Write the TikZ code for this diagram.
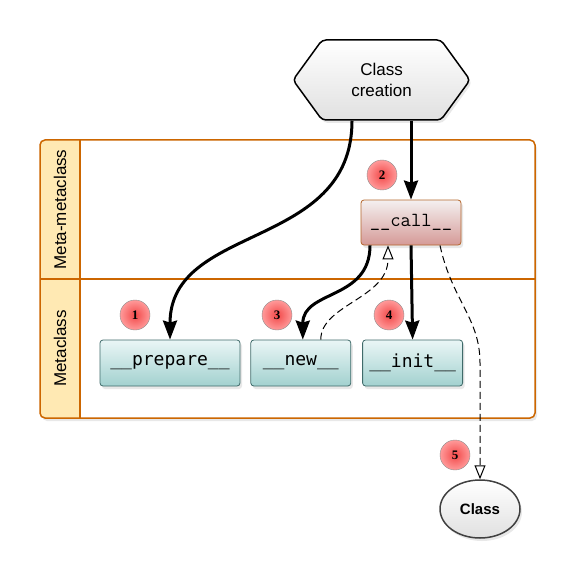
\documentclass[tikz,border=0pt]{standalone}
\usepackage{fontspec}
\setmainfont{Liberation Sans}
\newfontfamily\codefont{DejaVu Sans Mono}
\newfontfamily\numfont{Liberation Serif}
\usetikzlibrary{arrows.meta, shadows, shapes.symbols, shapes.geometric, positioning}

\definecolor{lane}{HTML}{CC6600}
\definecolor{lanefill}{HTML}{FFE9B3}
\definecolor{tealtop}{HTML}{EAF6F6}
\definecolor{tealbot}{HTML}{A2D1CF}
\definecolor{tealline}{HTML}{3F6B6A}
\definecolor{calltop}{HTML}{F4F0F0}
\definecolor{callbot}{HTML}{D59A97}
\definecolor{callline}{HTML}{B4662C}
\definecolor{badgein}{HTML}{F24848}
\definecolor{badgeout}{HTML}{FF9A9A}

\tikzstyle{soft}=[drop shadow={opacity=0.18, shadow xshift=2pt, shadow yshift=-3pt}]
\tikzstyle{method}=[rectangle, rounded corners=3pt, draw=tealline, thick, top color=tealtop, bottom color=tealbot, minimum width=100pt, minimum height=46pt, font=\codefont\fontsize{18}{20}\selectfont, soft]
\tikzstyle{callbox}=[rectangle, rounded corners=3pt, draw=callline, thick, top color=calltop, bottom color=callbot, minimum width=100pt, minimum height=45pt, font=\ttfamily\fontsize{20}{22}\selectfont, soft]
\tikzstyle{hexa}=[signal, signal to=west and east, signal pointer angle=108, draw=black, line width=1.5pt, rounded corners=4pt, top color=white, bottom color=black!12, minimum width=177pt, minimum height=80pt, align=center, font=\fontsize{17}{21}\selectfont, soft]
\tikzstyle{clsnode}=[ellipse, draw=black!75, line width=1.5pt, top color=white, bottom color=black!12, minimum width=80pt, minimum height=58pt, font=\bfseries\fontsize{15}{18}\selectfont, soft]
\tikzstyle{badge}=[circle, draw=black!45, shading=radial, inner color=badgein, outer color=badgeout, minimum size=30pt, inner sep=0pt, font=\numfont\bfseries\fontsize{13}{13}\selectfont]
\tikzstyle{lanetitle}=[rotate=90, font=\fontsize{17}{20}\selectfont]
\tikzstyle{flow}=[->, line width=3pt]
\tikzstyle{back}=[-{Triangle[open, length=14pt, width=11pt]}, dash pattern=on 7pt off 4pt, line width=1pt]

\begin{document}
\begin{tikzpicture}[x=1pt, y=-1pt, >={Stealth[length=19pt, width=14pt, inset=2pt]}]
    \useasboundingbox (0,0) rectangle (575,580);

    % lanes
    \fill[white, rounded corners=5pt, soft] (40,140) rectangle (535,418);
    \begin{scope}
        \clip[rounded corners=5pt] (40,140) rectangle (535,418);
        \fill[lanefill] (40,140) rectangle (80,418);
    \end{scope}
    \draw[lane, line width=1.5pt] (80,140) -- (80,418) (40,279) -- (535,279);
    \draw[lane, line width=1.5pt, rounded corners=5pt] (40,140) rectangle (535,418);
    \node[lanetitle] (meta) at (60,209.5) {Meta-metaclass};
    \node[lanetitle] (mc) at (60,348.5) {Metaclass};

    % nodes
    \node[hexa] (cc) at (381.5,80) {Class\\creation};
    \node[callbox] (call) at (411,222.5) {\_\_call\_\_};
    \node[method, minimum width=140pt] (prep) at (170,363) {\_\_prepare\_\_};
    \node[method, right=10pt of prep] (new) {\_\_new\_\_};
    \node[method, right=11pt of new] (init) {\_\_init\_\_};
    \node[clsnode] (cls) at (480,509) {Class};

    \node[badge] (b1) at (135,315) {1};
    \node[badge] (b2) at (382,175) {2};
    \node[badge] (b3) at (277,315) {3};
    \node[badge] (b4) at (389,315) {4};
    \node[badge] (b5) at (455,455) {5};

    % calls
    \draw[flow] ([xshift=-29.5pt]cc.south) .. controls +(0,130) and +(0,-117) .. (prep.north);
    \draw[flow] (cc.south -| call.north) -- (call.north);
    \draw[flow] ([xshift=-41pt]call.south) .. controls +(0,55) and +(0,-50) .. ([xshift=2pt]new.north);
    \draw[flow] (call.south) -- (init.north);
    \draw[back] ([xshift=20pt]new.north) .. controls +(0,-35) and +(0,53) .. ([xshift=-23pt]call.south);
    \draw[back] ([xshift=29pt]call.south) .. controls +(12,55) and +(0,-45) .. (cls.north |- init.center) -- (cls.north);
\end{tikzpicture}
\end{document}
